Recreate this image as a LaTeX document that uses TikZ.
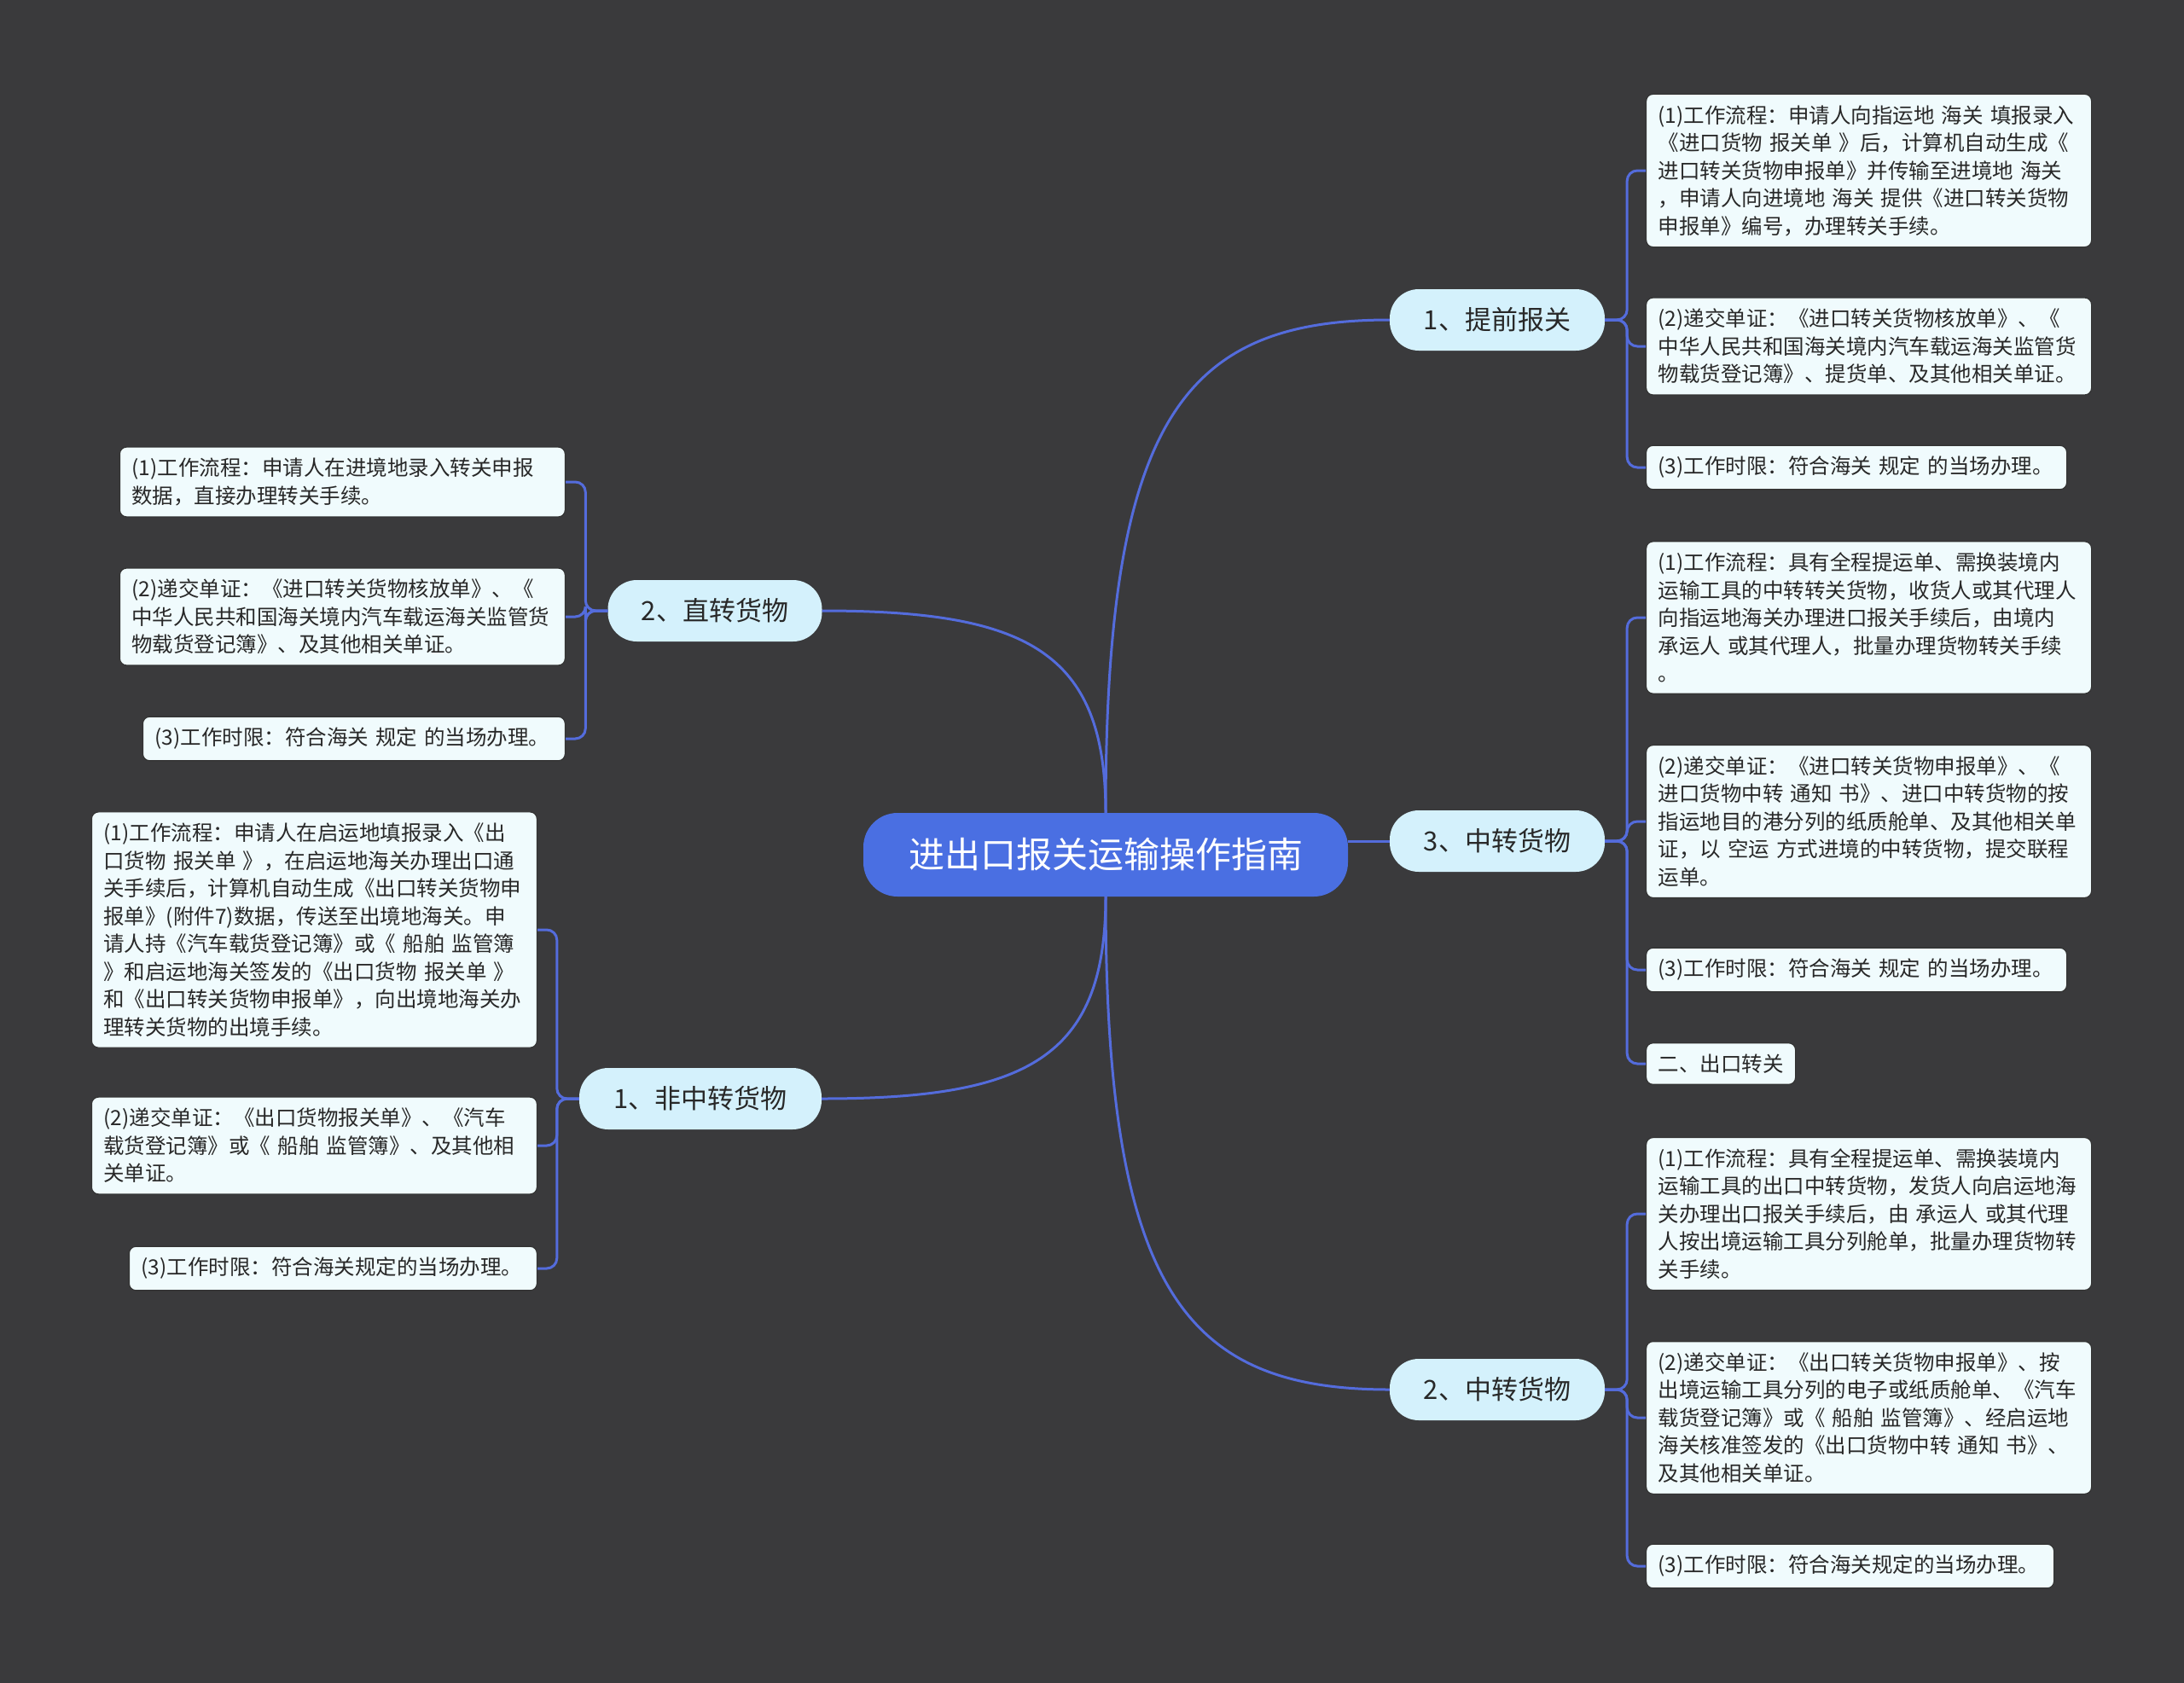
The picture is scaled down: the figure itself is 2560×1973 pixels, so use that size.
\documentclass[tikz,border=0pt]{standalone}
\usepackage{fontspec}
\setmainfont{Noto Sans CJK SC}
\definecolor{bg}{RGB}{58,58,60}
\definecolor{cblue}{RGB}{74,111,226}
\definecolor{lvlone}{RGB}{212,241,252}
\definecolor{leaffill}{RGB}{240,251,253}
\definecolor{linkc}{RGB}{84,108,220}
\definecolor{txt}{RGB}{40,40,40}
\begin{document}
\begin{tikzpicture}[x=1pt,y=-1pt,
  leaf/.style={draw=black!80, line width=1.2pt, fill=leaffill, rounded corners=8pt,
    inner xsep=14pt, inner ysep=13pt, align=left,
    font=\fontsize{24.5}{32.5}\selectfont, text=txt},
  leafw/.style={leaf, text width=494pt},
  topic/.style={fill=lvlone, rounded corners=34pt, minimum height=72pt,
    minimum width=252pt, font=\fontsize{31}{36}\selectfont, text=txt, inner sep=0pt},
  linkp/.style={draw=linkc, line width=3pt},
  branch/.style={linkp, rounded corners=12pt},
]
\fill[bg] (0,0) rectangle (2560,1973);
\useasboundingbox (0,0) rectangle (2560,1973);

% center
\node[fill=cblue, rounded corners=40pt, minimum width=568pt, minimum height=98pt,
  font=\fontsize{42}{48}\selectfont, text=white, inner sep=0pt] (c) at (1296,1002) {进出口报关运输操作指南};

% topics
\node[topic] (t1) at (1755,375) {1、提前报关};
\node[topic] (t3) at (1755,986) {3、中转货物};
\node[topic] (t2) at (1755,1629) {2、中转货物};
\node[topic, minimum width=251pt] (tz) at (838,716) {2、直转货物};
\node[topic, minimum width=284pt] (tf) at (821,1288) {1、非中转货物};

% right leaves: 1、提前报关
\node[leafw, anchor=west] (a1) at (1929,200) {(1)工作流程：申请人向指运地~海关~填报录入\\《进口货物~报关单~》后，计算机自动生成《\\进口转关货物申报单》并传输至进境地~海关\\，申请人向进境地~海关~提供《进口转关货物\\申报单》编号，办理转关手续。};
\node[leafw, anchor=west] (a2) at (1929,406) {(2)递交单证：《进口转关货物核放单》、《\\中华人民共和国海关境内汽车载运海关监管货\\物载货登记簿》、提货单、及其他相关单证。};
\node[leaf, text width=465pt, anchor=west] (a3) at (1929,548) {\mbox{(3)工作时限：符合海关 规定 的当场办理。}};

% right leaves: 3、中转货物
\node[leafw, anchor=west] (b1) at (1929,724) {(1)工作流程：具有全程提运单、需换装境内\\运输工具的中转转关货物，收货人或其代理人\\向指运地海关办理进口报关手续后，由境内\\承运人~或其代理人，批量办理货物转关手续\\。};
\node[leafw, anchor=west] (b2) at (1929,963) {(2)递交单证：《进口转关货物申报单》、《\\进口货物中转~通知~书》、进口中转货物的按\\指运地目的港分列的纸质舱单、及其他相关单\\证，以~空运~方式进境的中转货物，提交联程\\运单。};
\node[leaf, text width=465pt, anchor=west] (b3) at (1929,1137) {\mbox{(3)工作时限：符合海关 规定 的当场办理。}};
\node[leaf, anchor=west] (b4) at (1929,1247) {二、出口转关};

% right leaves: 2、中转货物
\node[leafw, anchor=west] (d1) at (1929,1423) {(1)工作流程：具有全程提运单、需换装境内\\运输工具的出口中转货物，发货人向启运地海\\关办理出口报关手续后，由~承运人~或其代理\\人按出境运输工具分列舱单，批量办理货物转\\关手续。};
\node[leafw, anchor=west] (d2) at (1929,1662) {(2)递交单证：《出口转关货物申报单》、按\\出境运输工具分列的电子或纸质舱单、《汽车\\载货登记簿》或《~船舶~监管簿》、经启运地\\海关核准签发的《出口货物中转~通知~书》、\\及其他相关单证。};
\node[leaf, text width=450pt, anchor=west] (d3) at (1929,1836) {\mbox{(3)工作时限：符合海关规定的当场办理。}};

% left leaves: 2、直转货物
\node[leafw, anchor=east] (z1) at (663,565) {(1)工作流程：申请人在进境地录入转关申报\\数据，直接办理转关手续。};
\node[leafw, anchor=east] (z2) at (663,723) {(2)递交单证：《进口转关货物核放单》、《\\中华人民共和国海关境内汽车载运海关监管货\\物载货登记簿》、及其他相关单证。};
\node[leaf, text width=467pt, anchor=east] (z3) at (663,866) {\mbox{(3)工作时限：符合海关 规定 的当场办理。}};

% left leaves: 1、非中转货物
\node[leafw, anchor=east] (f1) at (630,1090) {(1)工作流程：申请人在启运地填报录入《出\\口货物~报关单~》，在启运地海关办理出口通\\关手续后，计算机自动生成《出口转关货物申\\报单》(附件7)数据，传送至出境地海关。申\\请人持《汽车载货登记簿》或《~船舶~监管簿\\》和启运地海关签发的《出口货物~报关单~》\\和《出口转关货物申报单》，向出境地海关办\\理转关货物的出境手续。};
\node[leafw, anchor=east] (f2) at (630,1343) {(2)递交单证：《出口货物报关单》、《汽车\\载货登记簿》或《~船舶~监管簿》、及其他相\\关单证。};
\node[leaf, text width=450pt, anchor=east] (f3) at (630,1487) {\mbox{(3)工作时限：符合海关规定的当场办理。}};

% center connectors
\draw[linkp] (c.north) .. controls (1296,490) and (1388,375) .. (t1.west);
\draw[linkp] (c.south) .. controls (1296,1513) and (1389,1629) .. (t2.west);
\draw[linkp] (c.north) .. controls (1296,763) and (1203,716) .. (tz.east);
\draw[linkp] (c.south) .. controls (1296,1241) and (1203,1288) .. (tf.east);
\draw[linkp] (t3.west -| c.east) -- (t3.west);

% branch connectors right
\foreach \l in {a1,a2,a3} \draw[branch] (t1.east) -- ++(26,0) |- (\l.west);
\foreach \l in {b1,b2,b3,b4} \draw[branch] (t3.east) -- ++(26,0) |- (\l.west);
\foreach \l in {d1,d2,d3} \draw[branch] (t2.east) -- ++(26,0) |- (\l.west);
% branch connectors left
\foreach \l in {z1,z2,z3} \draw[branch] (tz.west) -- ++(-26,0) |- (\l.east);
\foreach \l in {f1,f2,f3} \draw[branch] (tf.west) -- ++(-26,0) |- (\l.east);
\end{tikzpicture}
\end{document}
